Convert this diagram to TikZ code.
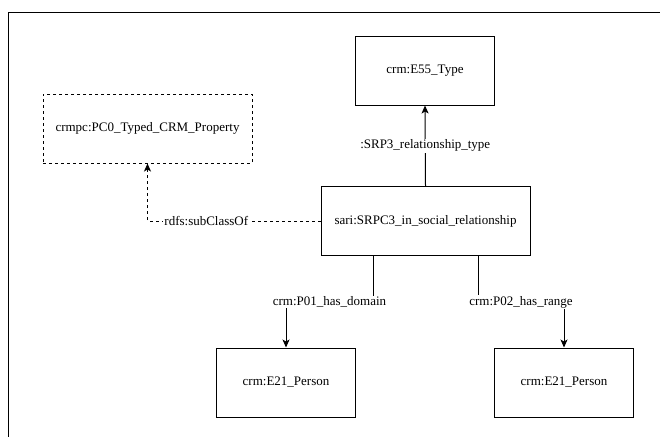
\documentclass[tikz,border=0pt]{standalone}
\usepackage{fontspec}
\setmainfont{Liberation Serif}
\usetikzlibrary{arrows.meta}
\usetikzlibrary{calc}
\usetikzlibrary{positioning}

\begin{document}
\begin{tikzpicture}[x=1pt,y=-1pt,
                    nodes={font=\fontsize{13}{15}\selectfont},
                    cls/.style={draw,line width=1pt,minimum width=139pt,minimum height=69pt},
                    wide/.style={cls,minimum width=209pt},
                    rel/.style={line width=1pt,-{Stealth[length=8pt,width=7pt,inset=2pt]}},
                    sub/.style={rel,dash pattern=on 3pt off 3pt},
                    lbl/.style={fill=white,inner sep=1pt}]
 \useasboundingbox (0,0) rectangle (660,437);
 \draw[line width=1.5pt] (660,12.5) -- (8.5,12.5) -- (8.5,437);
 % classes
 \node[cls] (type) at (425,70.5) {crm:E55\_Type};
 \node[wide,dash pattern=on 3pt off 3pt] (pczero) at (147.5,128.5) {crmpc:PC0\_Typed\_CRM\_Property};
 \node[wide] (srpc) at (425.5,221) {sari:SRPC3\_in\_social\_relationship};
 \node[cls] (persona) at (286,382.5) {crm:E21\_Person};
 \node[cls] (personb) at (564,382.5) {crm:E21\_Person};
 % properties
 \coordinate (dom) at ($(srpc.south west)!.25!(srpc.south east)$);
 \coordinate (ran) at ($(srpc.south west)!.75!(srpc.south east)$);
 \draw[rel] (srpc.north) -- (type.south)
       node[lbl,pos=.5] {:SRP3\_relationship\_type};
 \draw[rel] (dom) -- ++(0,46) -| (persona.north)
       node[lbl,pos=.25] {crm:P01\_has\_domain};
 \draw[rel] (ran) -- ++(0,46) -| (personb.north)
       node[lbl,pos=.25] {crm:P02\_has\_range};
 \draw[sub] (srpc.west) -| (pczero.south)
       node[lbl,pos=.33] {rdfs:subClassOf};
\end{tikzpicture}
\end{document}
